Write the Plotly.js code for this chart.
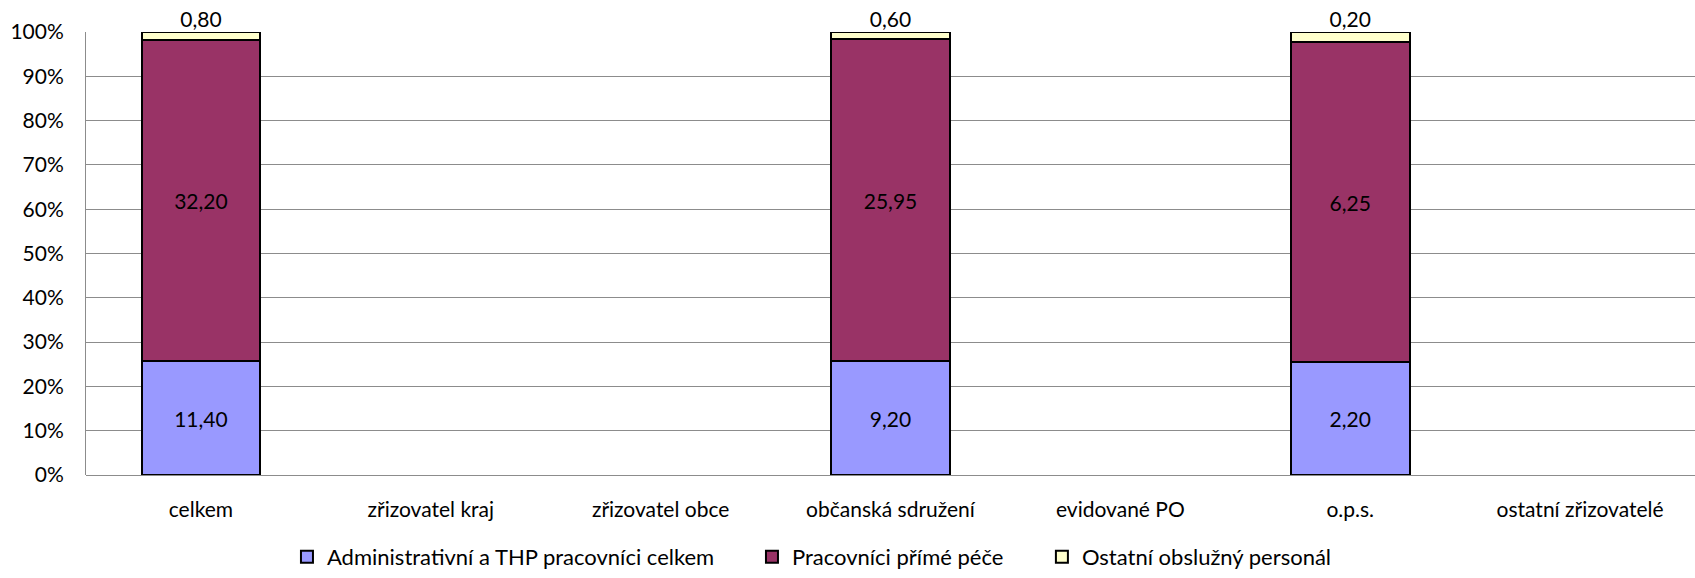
<!DOCTYPE html>
<html>
<head>
<meta charset="utf-8">
<script src="https://cdn.plot.ly/plotly-3.0.1.min.js"></script>
<style>html,body{margin:0;padding:0;background:#fff;}#chart{width:1695px;height:578px;}</style>
</head>
<body>
<div id="chart"></div>
<script>
const categories = ["celkem", "zřizovatel kraj", "zřizovatel obce", "občanská sdružení", "evidované PO", "o.p.s.", "ostatní zřizovatelé"];
const seriesNames = ["Administrativní a THP pracovníci celkem", "Pracovníci přímé péče", "Ostatní obslužný personál"];
const adminValues = [11.40, null, null, 9.20, null, 2.20, null];
const pecValues = [32.20, null, null, 25.95, null, 6.25, null];
const ostatniValues = [0.80, null, null, 0.60, null, 0.20, null];
const yTickValues = [0, 10, 20, 30, 40, 50, 60, 70, 80, 90, 100];
const yTickLabels = ["0%", "10%", "20%", "30%", "40%", "50%", "60%", "70%", "80%", "90%", "100%"];
const colors = ["#9999FF", "#993366", "#FFFFCC"];

function fmt(v) { return v == null ? "" : v.toFixed(2).replace(".", ","); }

const FAM = "Lato, 'Open Sans', sans-serif";
const font = {family: FAM, size: 21, color: "#000"};
const legFont = {family: FAM, size: 22, color: "#000"};
const legends = ["legend", "legend2", "legend3"];

function mk(vals, i, showText) {
  return {
    type: "bar", x: categories, y: vals, name: seriesNames[i], legend: legends[i],
    marker: {color: colors[i], line: {color: "#000", width: 2}},
    text: showText ? vals.map(fmt) : vals.map(() => ""), texttemplate: "%{text}", textposition: "inside",
    insidetextanchor: "middle", textfont: font, insidetextfont: font, constraintext: "none",
    cliponaxis: false, hoverinfo: "skip"
  };
}
// top labels of the last stacked series, placed at the top of each normalized stack
const stackTop = ostatniValues.map(v => v == null ? null : 100);
const data = [
  mk(adminValues, 0, true),
  mk(pecValues, 1, true),
  mk(ostatniValues, 2, false),
  {type: "scatter", mode: "text", x: categories, y: stackTop, text: ostatniValues.map(fmt),
   textposition: "top center", textfont: font, cliponaxis: false, showlegend: false, hoverinfo: "skip"}
];

function leg(x) {
  return {orientation: "h", x: x, xanchor: "left", y: -0.186, yanchor: "middle",
    font: legFont, itemwidth: 30, bgcolor: "rgba(0,0,0,0)", borderwidth: 0};
}

const layout = {
  width: 1695, height: 578,
  barmode: "stack", barnorm: "percent", bargap: 0.483,
  margin: {l: 86, r: 0, t: 32, b: 100},
  paper_bgcolor: "#fff", plot_bgcolor: "#fff",
  font: font,
  xaxis: {tickfont: font, showgrid: false, showline: false, ticks: "", automargin: false, ticklabelstandoff: 20, fixedrange: true},
  yaxis: {range: [0, 100], tickvals: yTickValues, ticktext: yTickLabels,
    tickfont: font, showgrid: true, gridcolor: "#8c8c8c", gridwidth: 1, showline: true, linecolor: "#8c8c8c",
    linewidth: 1, zeroline: true, zerolinecolor: "#8c8c8c", zerolinewidth: 1, ticks: "", automargin: false,
    ticklabelstandoff: 17, fixedrange: true},
  legend: leg(0.1249),
  legend2: leg(0.4139),
  legend3: leg(0.5941),
  showlegend: true
};
Plotly.newPlot("chart", data, layout, {staticPlot: true});
</script>
</body>
</html>
